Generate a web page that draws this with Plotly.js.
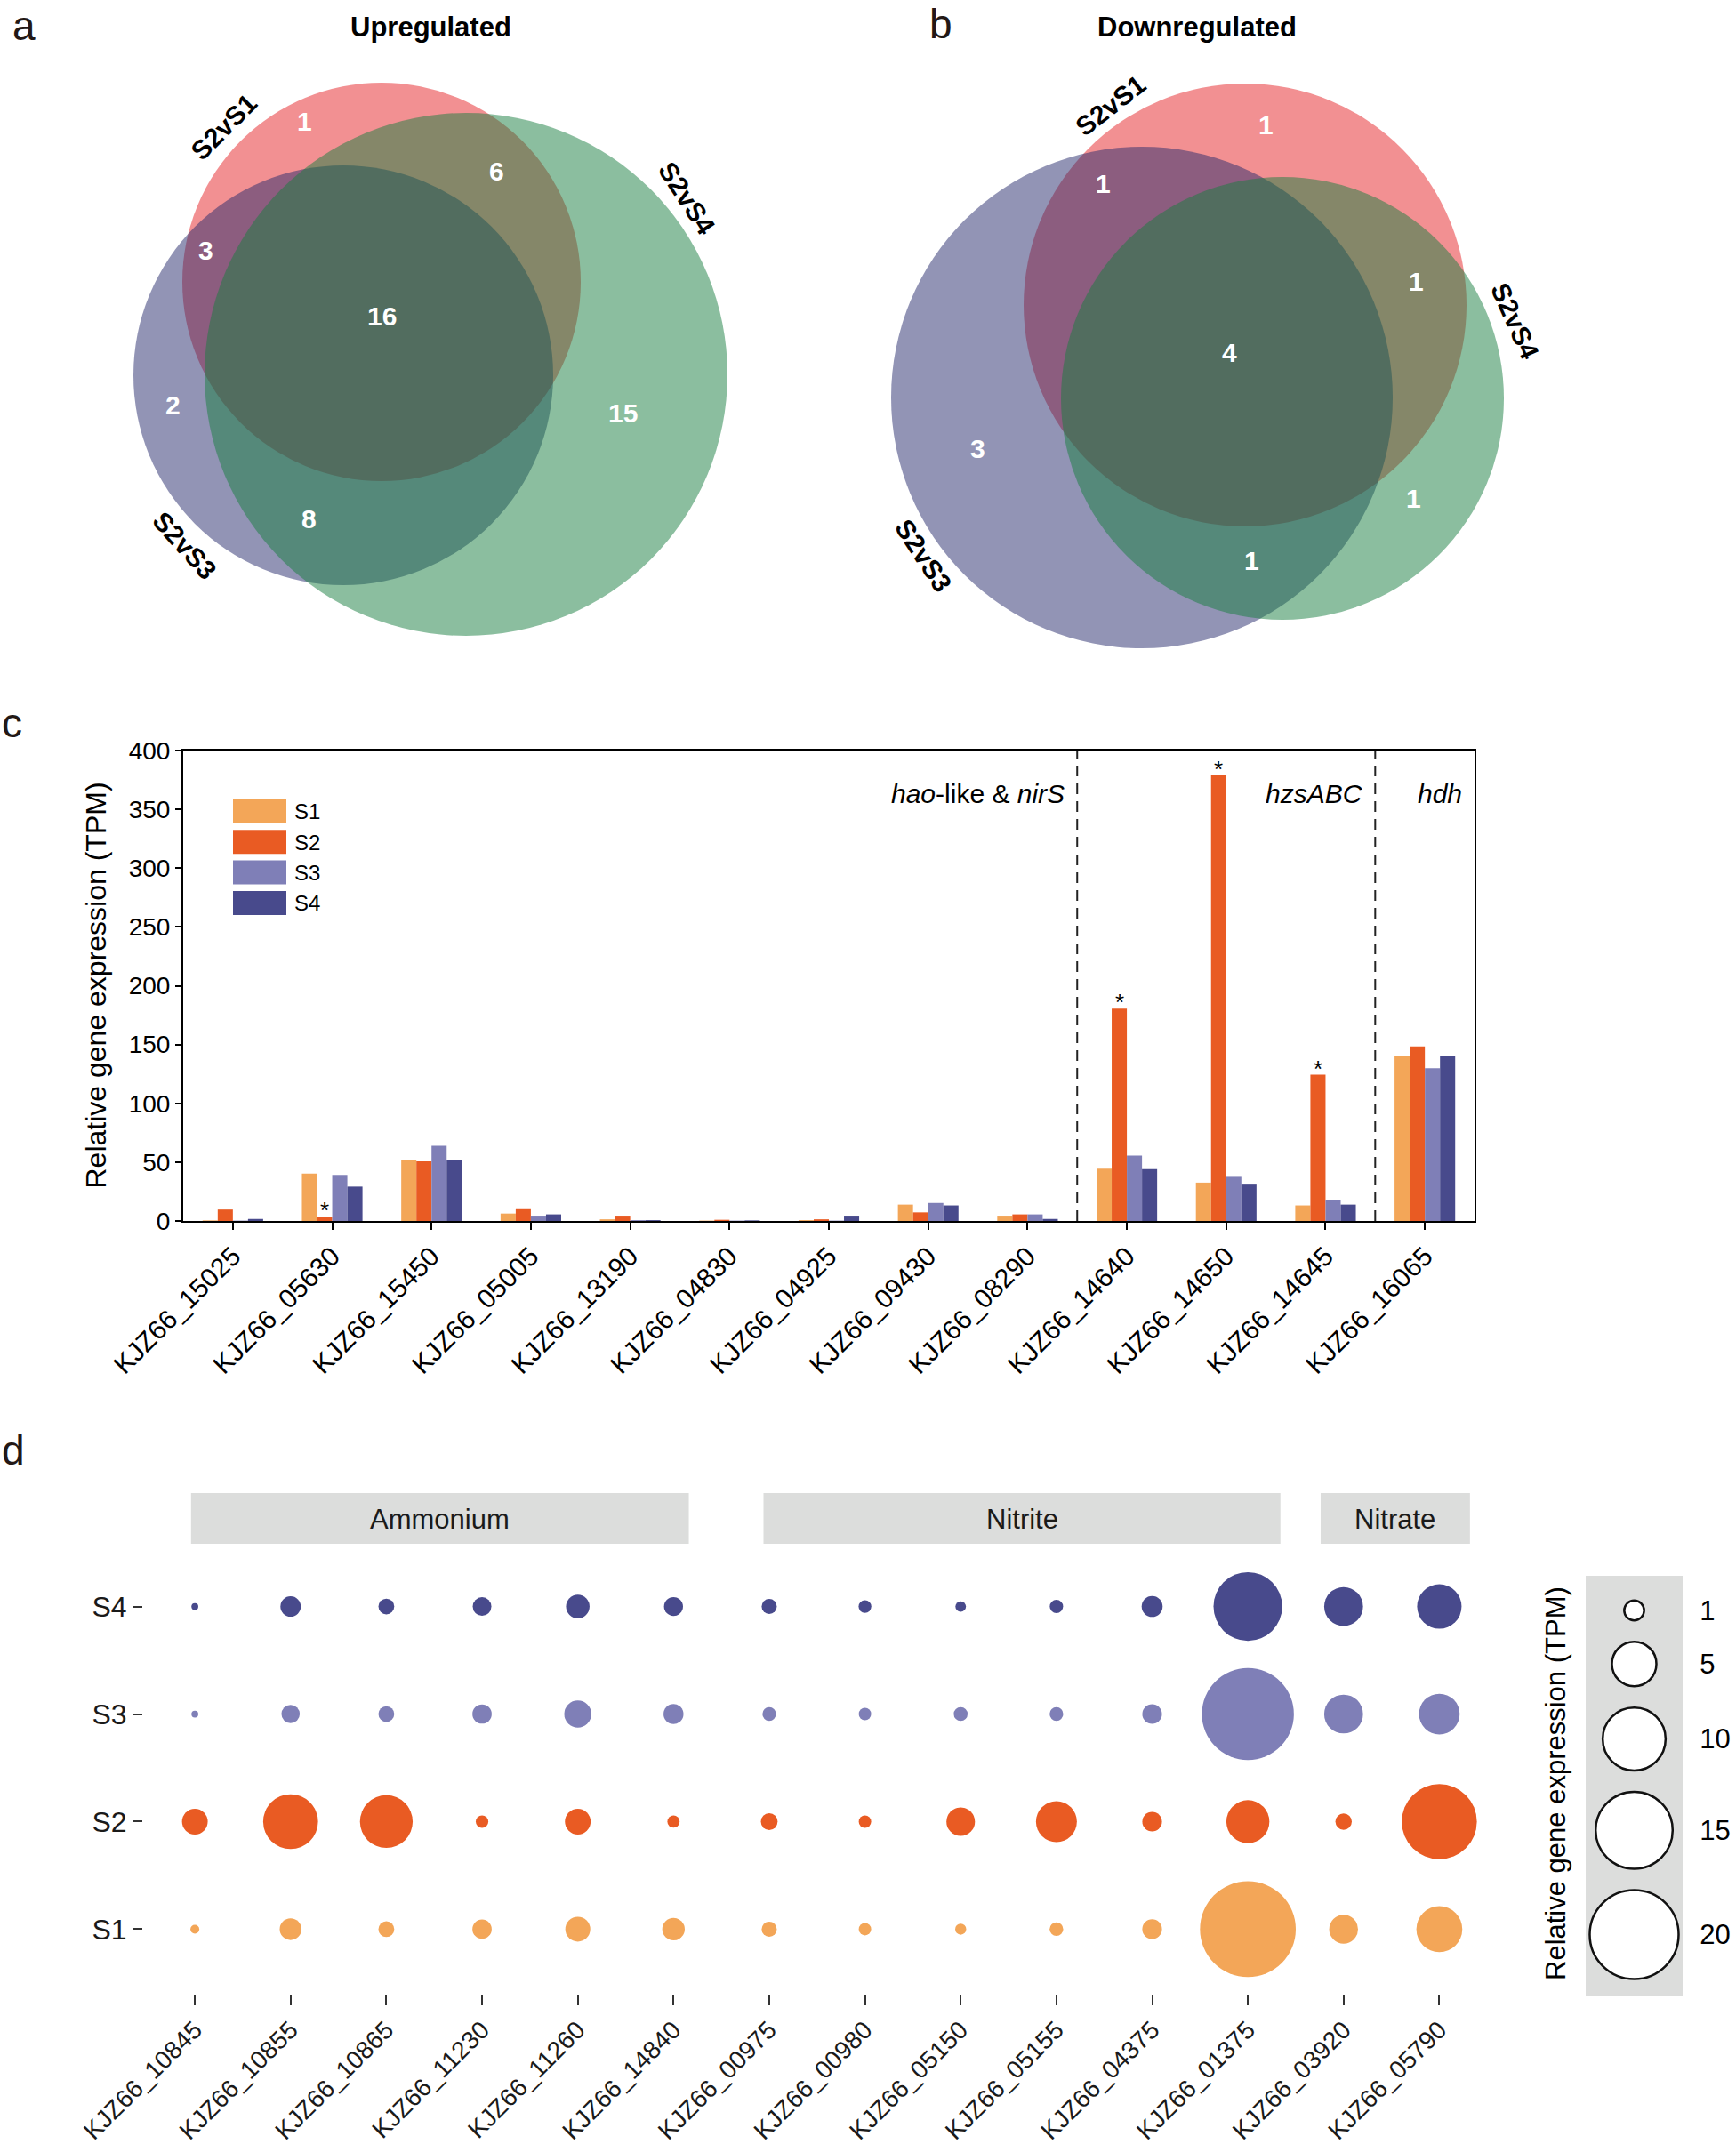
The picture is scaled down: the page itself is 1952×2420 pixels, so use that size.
<!DOCTYPE html>
<html><head><meta charset="utf-8">
<script src="https://cdn.plot.ly/plotly-3.0.1.min.js"></script>
<style>html,body{margin:0;padding:0;background:#fff}</style>
</head><body>
<div id="chart" style="width:1952px;height:2420px"></div>
<script>
// ================= DATA =================
// Venn diagrams (membership key order: S2vS1, S2vS3, S2vS4)
const vennSetNames = ['S2vS1', 'S2vS3', 'S2vS4'];
const vennRegions  = ['100', '110', '101', '111', '010', '001', '011'];
const upCounts     = [1, 3, 6, 16, 2, 15, 8];
const downCounts   = [1, 1, 1, 4, 3, 1, 1];

// Panel c: bar chart
const barGenes = ['KJZ66_15025','KJZ66_05630','KJZ66_15450','KJZ66_05005','KJZ66_13190','KJZ66_04830',
                  'KJZ66_04925','KJZ66_09430','KJZ66_08290','KJZ66_14640','KJZ66_14650','KJZ66_14645','KJZ66_16065'];
const samples = ['S1', 'S2', 'S3', 'S4'];
const barS1 = [0.5, 40.3, 52.0, 6.3, 1.4, 0.3, 0.7, 13.9, 4.5, 44.4, 32.6, 13.2, 139.9];
const barS2 = [9.7, 3.5, 50.7, 10.0, 4.5, 1.0, 1.4, 7.3, 5.6, 180.6, 379.0, 124.3, 148.3];
const barS3 = [0.3, 39.2, 63.9, 4.5, 0.7, 0.3, 0.3, 15.3, 5.6, 55.6, 37.5, 17.4, 129.9];
const barS4 = [1.7, 29.2, 51.4, 5.6, 0.7, 0.5, 4.5, 13.2, 1.7, 44.1, 30.9, 13.9, 139.9];
const barSignificantS2 = ['KJZ66_05630', 'KJZ66_14640', 'KJZ66_14650', 'KJZ66_14645'];
const barGroupLabels = ['<i>hao</i>-like &amp; <i>nirS</i>', '<i>hzsABC</i>', '<i>hdh</i>'];
const barGroupSizes  = [9, 3, 1];

// Panel d: dot plot
const dotGenes = ['KJZ66_10845','KJZ66_10855','KJZ66_10865','KJZ66_11230','KJZ66_11260','KJZ66_14840','KJZ66_00975',
                  'KJZ66_00980','KJZ66_05150','KJZ66_05155','KJZ66_04375','KJZ66_01375','KJZ66_03920','KJZ66_05790'];
const dotGroups = ['Ammonium', 'Nitrite', 'Nitrate'];
const dotGroupSizes = [6, 6, 2];
const dotS1 = [0.20, 1.20, 0.63, 0.94, 1.57, 1.28, 0.58, 0.39, 0.31, 0.47, 0.98, 23.2, 2.10, 5.33];
const dotS2 = [1.67, 7.61, 7.03, 0.40, 1.67, 0.38, 0.71, 0.39, 2.06, 4.23, 0.98, 4.68, 0.68, 14.25];
const dotS3 = [0.12, 0.85, 0.63, 0.94, 1.85, 1.01, 0.47, 0.39, 0.49, 0.47, 0.98, 21.4, 3.82, 4.18];
const dotS4 = [0.12, 1.05, 0.63, 0.88, 1.40, 0.91, 0.58, 0.41, 0.28, 0.45, 1.11, 11.95, 3.82, 5.00];
const sizeLegendValues = [1, 5, 10, 15, 20];

// ================= STYLE / LAYOUT =================
const W = 1952, H = 2420;
const px = x => x / W, py = y => 1 - y / H;
const FONT = 'Liberation Sans, Arial, Helvetica, sans-serif';
const TXT = '#1a1a1a';
const sampleColors = ['#F3A658', '#E95B23', '#7F7FB7', '#484A8C'];
const vennColors = {S2vS1: 'rgb(229,33,37)', S2vS3: 'rgb(37,41,107)', S2vS4: 'rgb(23,125,63)'};

const vennPanels = [
  { title: 'Upregulated', titlePos: [484, 31], letter: 'a', letterPos: [12, 29], counts: upCounts,
    circles: { S2vS1: [429, 317, 224], S2vS3: [386, 422, 236], S2vS4: [524, 421, 294] },
    regionPos: { '100': [342,137], '110': [231,281], '101': [558,192], '111': [429,355], '010': [194,456], '001': [700,465], '011': [347,583] },
    labelPos: { S2vS1: [252,143,-45], S2vS3: [208,613,48], S2vS4: [772,223,57] } },
  { title: 'Downregulated', titlePos: [1346, 31], letter: 'b', letterPos: [1043, 27], counts: downCounts,
    circles: { S2vS1: [1400, 343, 249], S2vS3: [1284, 447, 282], S2vS4: [1442, 448, 249] },
    regionPos: { '100': [1423,140], '110': [1240,207], '101': [1592,316], '111': [1382,397], '010': [1099,504], '001': [1589,560], '011': [1407,630] },
    labelPos: { S2vS1: [1249,119,-38], S2vS3: [1038,625,57], S2vS4: [1703,361,66] } }
];

const shapes = [];
const annotations = [];

// ---- Venn panels ----
vennPanels.forEach(p => {
  ['S2vS1', 'S2vS3', 'S2vS4'].forEach(s => {
    const [cx, cy, r] = p.circles[s];
    shapes.push({ type: 'circle', xref: 'paper', yref: 'paper',
      x0: px(cx - r), x1: px(cx + r), y0: py(cy + r), y1: py(cy - r),
      fillcolor: vennColors[s], opacity: 0.5, line: { width: 0 } });
    const [lx, ly, ang] = p.labelPos[s];
    annotations.push({ xref: 'paper', yref: 'paper', x: px(lx), y: py(ly), text: '<b>' + s + '</b>',
      showarrow: false, textangle: ang, xanchor: 'center', yanchor: 'middle',
      font: { family: FONT, size: 30, color: '#000' } });
  });
  vennRegions.forEach((reg, i) => {
    const [x, y] = p.regionPos[reg];
    annotations.push({ xref: 'paper', yref: 'paper', x: px(x), y: py(y), text: '<b>' + p.counts[i] + '</b>',
      showarrow: false, xanchor: 'center', yanchor: 'middle', font: { family: FONT, size: 30, color: '#fff' } });
  });
  annotations.push({ xref: 'paper', yref: 'paper', x: px(p.titlePos[0]), y: py(p.titlePos[1]), text: '<b>' + p.title + '</b>',
    showarrow: false, xanchor: 'center', yanchor: 'middle', font: { family: FONT, size: 31, color: '#000' } });
  annotations.push({ xref: 'paper', yref: 'paper', x: px(p.letterPos[0]), y: py(p.letterPos[1]), text: p.letter,
    showarrow: false, xanchor: 'left', yanchor: 'middle', font: { family: FONT, size: 46, color: '#231815' } });
});

// ---- Panel c: bars ----
const barTop = 844, barBot = 1373, barL = 206, barR = 1658;
const barSeries = [barS1, barS2, barS3, barS4];
const traces = barSeries.map((vals, i) => ({
  type: 'bar', x: barGenes, y: vals, name: samples[i], xaxis: 'x', yaxis: 'y',
  marker: { color: sampleColors[i], line: { width: 0 } }, showlegend: false, hoverinfo: 'skip'
}));
const bargap = 0.39;
const pxPerCat = (barR - barL) / barGenes.length;
const barW = (1 - bargap) / samples.length * pxPerCat;
barSignificantS2.forEach(g => {
  const idx = barGenes.indexOf(g);
  annotations.push({ xref: 'x', yref: 'y', x: g, y: barS2[idx], text: '*', showarrow: false,
    xanchor: 'center', yanchor: 'bottom', xshift: -0.5 * barW, yshift: -10,
    font: { family: FONT, size: 26, color: '#000' } });
});
// group dividers and labels
let cum = 0;
barGroupSizes.forEach((n, gi) => {
  cum += n;
  const boundary = cum - 0.5;
  if (gi < barGroupSizes.length - 1) {
    shapes.push({ type: 'line', xref: 'x', yref: 'y domain', x0: boundary, x1: boundary, y0: 0, y1: 1,
      line: { color: '#222', width: 2, dash: '12px,8px' } });
  }
  annotations.push({ xref: 'x', yref: 'paper', x: boundary, y: py(893), text: barGroupLabels[gi], showarrow: false,
    xanchor: 'right', yanchor: 'middle', xshift: -12, font: { family: FONT, size: 30, color: '#000' } });
});
// manual legend
samples.forEach((s, i) => {
  const y0 = 899 + i * 34.3;
  shapes.push({ type: 'rect', xref: 'paper', yref: 'paper', x0: px(262), x1: px(322), y0: py(y0 + 27), y1: py(y0),
    fillcolor: sampleColors[i], line: { width: 0 } });
  annotations.push({ xref: 'paper', yref: 'paper', x: px(329), y: py(y0 + 14), text: s, showarrow: false,
    xanchor: 'left', yanchor: 'middle', font: { family: FONT, size: 24, color: '#000' } });
});
annotations.push({ xref: 'paper', yref: 'paper', x: px(108), y: py((barTop + barBot) / 2), text: 'Relative gene expression (TPM)',
  showarrow: false, textangle: -90, xanchor: 'center', yanchor: 'middle', font: { family: FONT, size: 32, color: '#000' } });
annotations.push({ xref: 'paper', yref: 'paper', x: px(0), y: py(813), text: 'c', showarrow: false,
  xanchor: 'left', yanchor: 'middle', font: { family: FONT, size: 46, color: '#231815' } });

// ---- Panel d: dot plot ----
const sizeref = 0.004;
const diam = v => Math.sqrt(2 * v / sizeref);
const dotSeries = [dotS1, dotS2, dotS3, dotS4];
dotSeries.forEach((vals, i) => {
  traces.push({ type: 'scatter', mode: 'markers', x: dotGenes, y: dotGenes.map(() => samples[i]),
    xaxis: 'x2', yaxis: 'y2', showlegend: false, hoverinfo: 'skip', cliponaxis: false, opacity: 1,
    marker: { size: vals, sizemode: 'area', sizeref: sizeref, color: sampleColors[i], line: { width: 0 }, opacity: 1 } });
});
// facet strips
const stripPadL = [0.04, 0.06, 0.24], stripPadR = [0.16, 0.34, 0.32];
let start = 0;
dotGroups.forEach((g, gi) => {
  const end = start + dotGroupSizes[gi] - 1;
  shapes.push({ type: 'rect', xref: 'x2', yref: 'paper', x0: start - stripPadL[gi], x1: end + stripPadR[gi],
    y0: py(1736), y1: py(1679), fillcolor: '#DCDDDC', line: { width: 0 }, layer: 'below' });
  annotations.push({ xref: 'x2', yref: 'paper', x: (start - stripPadL[gi] + end + stripPadR[gi]) / 2, y: py(1708),
    text: g, showarrow: false, xanchor: 'center', yanchor: 'middle', font: { family: FONT, size: 31, color: TXT } });
  start = end + 1;
});
annotations.push({ xref: 'paper', yref: 'paper', x: px(0), y: py(1631), text: 'd', showarrow: false,
  xanchor: 'left', yanchor: 'middle', font: { family: FONT, size: 46, color: '#231815' } });

// size legend
const legGap = 24;
const legPos = [];
sizeLegendValues.forEach((v, i) => {
  if (i === 0) legPos.push(39);
  else legPos.push(legPos[i - 1] + (diam(sizeLegendValues[i - 1]) + diam(v)) / 2 + legGap);
});
traces.push({ type: 'scatter', mode: 'markers', x: sizeLegendValues.map(() => 0.5), y: legPos,
  xaxis: 'x3', yaxis: 'y3', showlegend: false, hoverinfo: 'skip', cliponaxis: false, opacity: 1,
  marker: { size: sizeLegendValues, sizemode: 'area', sizeref: sizeref, color: '#ffffff', opacity: 1,
            line: { width: 2.5, color: '#111' } } });
shapes.push({ type: 'rect', xref: 'x3 domain', yref: 'y3 domain', x0: 0, x1: 1, y0: 0, y1: 1,
  fillcolor: '#DCDDDC', line: { width: 0 }, layer: 'below' });
annotations.push({ xref: 'paper', yref: 'paper', x: px(1750), y: py(2006), text: 'Relative gene expression (TPM)',
  showarrow: false, textangle: -90, xanchor: 'center', yanchor: 'middle', font: { family: FONT, size: 31, color: '#000' } });

const layout = {
  width: W, height: H, margin: { l: 0, r: 0, t: 0, b: 0 }, paper_bgcolor: '#fff', plot_bgcolor: 'rgba(0,0,0,0)',
  font: { family: FONT, color: TXT }, hovermode: false, barmode: 'group', bargap: bargap, bargroupgap: 0,
  xaxis: { domain: [px(barL), px(barR)], anchor: 'y', type: 'category', categoryorder: 'array', categoryarray: barGenes,
    range: [-0.5, barGenes.length - 0.5], showline: true, linecolor: '#000', linewidth: 2, mirror: true,
    ticks: 'outside', ticklen: 8, tickwidth: 2, tickcolor: '#000', tickangle: -45, showgrid: false, zeroline: false,
    tickfont: { family: FONT, size: 30, color: '#000' } },
  yaxis: { domain: [py(barBot), py(barTop)], anchor: 'x', range: [0, 400], dtick: 50, showline: true, linecolor: '#000',
    linewidth: 2, mirror: true, ticks: 'outside', ticklen: 7, tickwidth: 2, tickcolor: '#000', showgrid: false,
    zeroline: false, tickfont: { family: FONT, size: 28, color: '#000' } },
  xaxis2: { domain: [px(161), px(1683)], anchor: 'y2', type: 'category', categoryorder: 'array', categoryarray: dotGenes,
    range: [-0.54, dotGenes.length - 0.4], showline: false, showgrid: false, zeroline: false,
    ticks: 'outside', ticklen: 12, tickwidth: 2, tickcolor: '#333', tickangle: -45,
    tickfont: { family: FONT, size: 28, color: TXT } },
  yaxis2: { domain: [py(2242), py(1734)], anchor: 'x2', type: 'category', categoryorder: 'array', categoryarray: samples,
    range: [-0.6, samples.length - 0.4], showline: false, showgrid: false, zeroline: false,
    ticks: 'outside', ticklen: 11, tickwidth: 2, tickcolor: '#333', tickfont: { family: FONT, size: 32, color: TXT } },
  xaxis3: { domain: [px(1783), px(1892)], anchor: 'y3', range: [0, 1], visible: false },
  yaxis3: { domain: [py(2245), py(1772)], anchor: 'x3', range: [473, 0], side: 'right', showline: false, showgrid: false,
    zeroline: false, tickmode: 'array', tickvals: legPos, ticktext: sizeLegendValues.map(String),
    ticks: 'outside', ticklen: 12, tickcolor: 'rgba(0,0,0,0)', tickfont: { family: FONT, size: 31, color: '#000' } },
  shapes: shapes,
  annotations: annotations
};

Plotly.newPlot('chart', traces, layout, { staticPlot: true });
</script>
</body></html>
